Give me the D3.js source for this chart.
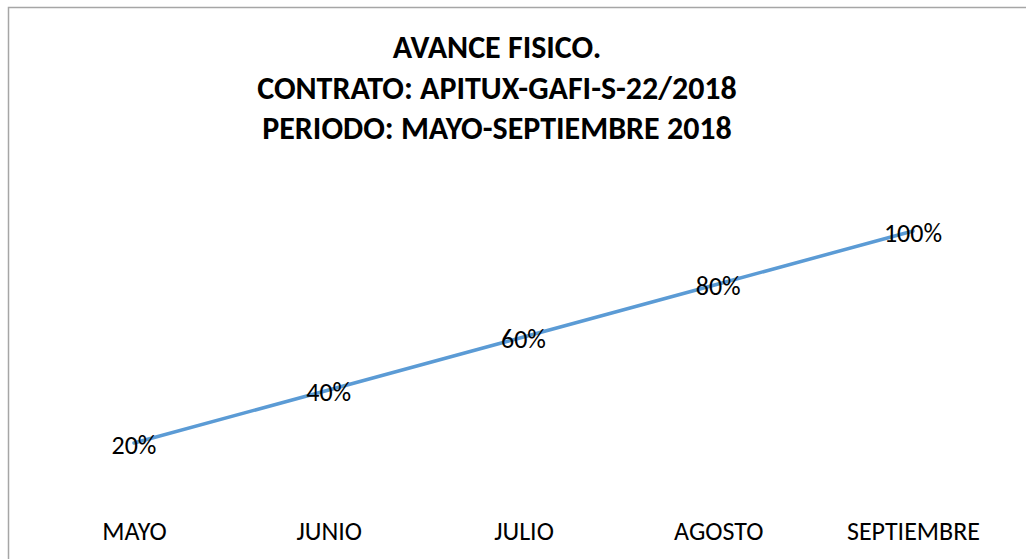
<!DOCTYPE html>
<html>
<head>
<meta charset="utf-8">
<script src="https://cdn.jsdelivr.net/npm/d3@7"></script>
<style>
  body { margin: 0; background: #fff; }
  svg { display: block; font-family: Carlito, Lato, "Open Sans", sans-serif; }
</style>
</head>
<body>
<div id="chart"></div>
<script>
// chart data
const months = ["MAYO", "JUNIO", "JULIO", "AGOSTO", "SEPTIEMBRE"];
const progress = [0.2, 0.4, 0.6, 0.8, 1.0];
const titleLines = [
  "AVANCE FISICO.",
  "CONTRATO: APITUX-GAFI-S-22/2018",
  "PERIODO: MAYO-SEPTIEMBRE 2018"
];

const width = 1026, height = 559;

const svg = d3.select("#chart")
  .append("svg")
  .attr("width", width)
  .attr("height", height);

// outer chart border (runs off the right and bottom edge)
svg.append("rect")
  .attr("x", 8.5)
  .attr("y", 7.5)
  .attr("width", 1040)
  .attr("height", 580)
  .attr("fill", "#fff")
  .attr("stroke", "#a6a6a6")
  .attr("stroke-width", 1.5);

// title
svg.append("g")
  .selectAll("text")
  .data(titleLines)
  .join("text")
  .attr("x", 497)
  .attr("y", (d, i) => 58 + i * 40.5)
  .attr("text-anchor", "middle")
  .attr("font-weight", "bold")
  .attr("font-size", 32)
  .attr("fill", "#000")
  .text(d => d);

const x = d3.scalePoint().domain(months).range([134, 913]);
const y = d3.scaleLinear().domain([0, 1.2]).range([496, 178]);

const data = months.map((m, i) => ({ month: m, value: progress[i] }));

// category labels (no axis line or ticks shown)
const xAxis = svg.append("g")
  .attr("transform", "translate(0,540)")
  .call(d3.axisBottom(x).tickSize(0).tickPadding(0));
xAxis.attr("font-family", null).attr("font-size", null);
xAxis.select(".domain").remove();
xAxis.selectAll("text")
  .attr("dy", 0)
  .attr("fill", "#000")
  .style("font-size", "26px");

// line
svg.append("path")
  .datum(data)
  .attr("fill", "none")
  .attr("stroke", "#5b9bd5")
  .attr("stroke-width", 3.5)
  .attr("stroke-linecap", "round")
  .attr("d", d3.line()
    .x(d => x(d.month))
    .y(d => y(d.value)));

// data labels centred on the points
svg.append("g")
  .selectAll("text")
  .data(data)
  .join("text")
  .attr("x", d => x(d.month))
  .attr("y", d => y(d.value) + 11)
  .attr("text-anchor", "middle")
  .attr("font-size", 26)
  .attr("fill", "#000")
  .text(d => d3.format(".0%")(d.value));
</script>
</body>
</html>
